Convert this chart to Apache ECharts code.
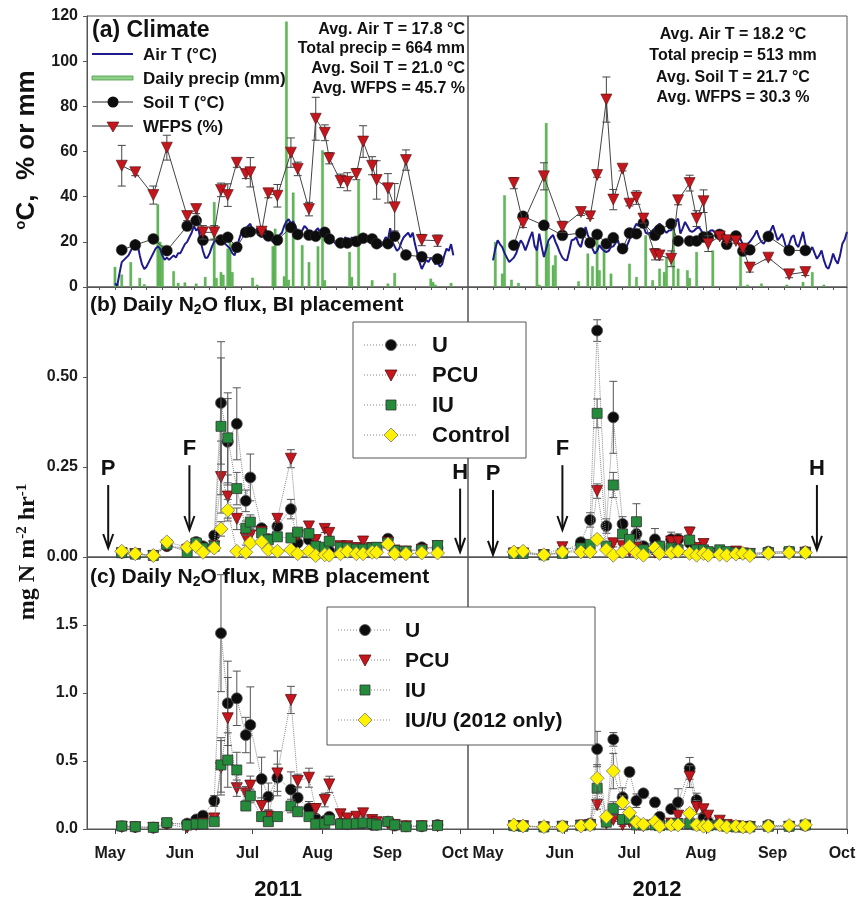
<!DOCTYPE html>
<html><head><meta charset="utf-8">
<script src="https://cdn.jsdelivr.net/npm/echarts@6/dist/echarts.min.js"></script>
<style>html,body{margin:0;padding:0;background:#fff}#c{width:858px;height:900px}</style>
</head><body><div id="c"></div><script>
// ---------- DATA ----------
const monthNames = ['May','Jun','Jul','Aug','Sep','Oct'];
const monthStarts2011 = [121,152,182,213,244,274];
const monthStarts2012 = [122,153,183,214,245,275];

const airStart2011 = 121;
const airT2011 = [1.6,0.5,6,11,12,13,14,16,18,21,19,14,10,8,9,11,13,15,17,18,17,14,12,13,12,13,14,13,15,15,17,19,20,22,24,27,25,26,20,16,13,13,15,18,20,21,19,21,20,19,18,17,15,14,17,21,24,23,26,27,28,25,24,26,23,22,24,25,23,21,20,22,21,23,24,27,29,30,28,29,27,24,23,25,27,26,24,25,23,25,26,24,26,23,22,21,22,20,19,20,18,19,22,21,20,22,20,21,22,20,21,22,20,21,19,20,18,19,18,20,22,21,26,20,18,16,17,20,22,23,24,22,24,19,15,11,8,10,12,11,13,12,10,11,9,10,14,17,16,19,14];
const airStart2012 = 122;
const airT2012 = [11.8,17,20.7,19,17.7,15,13,11,12,13,14.8,18,20.7,19,16.2,19,22,24.4,18,16.2,23.6,18,13.3,17,20.7,22,23,20,17.7,15,13,12,11.8,16,20.7,21,22,19,17.7,22,26.6,23,20.7,17,14.8,16,18.5,17,16,15.5,16,17.7,18,19.5,20.7,17,14.8,16,18.5,21,24.4,26,28,27,28,27,24,23.6,24,25.1,26,27,28,27,25.1,24,25,25.1,27,29,30.3,23.6,26,28.8,27,25,24.4,25,26,26.6,25,23,22.9,24,25,25.1,24,25,25.1,22,20,19.2,20,21.4,22,21,22.9,21,19,17.7,19,20,21.4,23,25.1,22,20,19.2,21,23.6,25,27.3,24,20.7,22,23.6,20,16.2,19,22,22.9,19,17.7,21,24.4,19,15.5,16,17.7,15,12.5,14,16.2,12,9,8.1,11,14.8,12,10.3,14,19.2,21,24.4];

const precip2011 = [[121,8.9],[122,1.5],[124,5.5],[128,11],[132,4],[134,1.2],[140,36.6],[141,20],[142,18.6],[147,7],[149,1.8],[152,2],[157,1.5],[161,4.4],[165,37.6],[166,4],[168,6.6],[169,5.4],[171,17],[172,23.6],[173,6.6],[182,4.1],[184,1],[191,18],[192,25.8],[196,4.7],[197,117.5],[198,3.2],[200,41.8],[204,18.5],[207,11],[211,18],[213,60.5],[214,3],[225,15.5],[226,4.4],[229,47.2],[235,3],[242,1.5],[245,6.2],[261,3.7],[262,2.2],[263,1],[270,1.8]];
const precip2012 = [[123,19.9],[126,5.9],[127,40.6],[130,3.2],[133,1.8],[141,18.5],[142,1],[145,72.6],[146,19.2],[148,9.6],[149,14],[159,2.5],[163,14.8],[165,9.2],[167,23.6],[168,7.4],[170,20.7],[173,5.9],[181,10.3],[184,4.4],[188,22.9],[191,3],[194,8.1],[196,6.6],[197,13.3],[200,25.8],[202,8.1],[206,7.4],[207,4],[210,15.5],[217,16.2],[229,14.8],[232,1],[238,1.5],[249,1],[256,2.2],[260,6.6],[265,1]];

const sampleDays2011 = [124,130,138,144,153,157,160,165,168,171,175,179,181,186,189,193,199,202,207,210,214,216,221,224,228,231,235,237,242,245,250,257,264];
const soilT2011 = [16.4,18.6,21.3,16.1,27,29.4,20.8,null,20.8,22,17.6,24.2,24.5,24.5,22.6,20.8,26.4,23.3,23,22.5,24.2,21.3,19.5,19.5,20.2,21.6,21.3,19.2,19.2,22.5,14.2,13.4,12.4];
const wfps2011 = [53.7,50.8,40.7,61.7,31.4,34.5,24.2,24.2,43,40.7,55,50,50.8,24.5,41.5,40.4,59.5,52.3,34.5,74.5,68.3,57,47,46.6,50,64.4,53.7,47.4,43.7,35.3,56.2,20.8,20.5];
const wfpsErr2011 = [9,1.5,4,5.5,2,2,3,3,3,5,2,2,6.5,1,2,5,6.5,3,3,9.5,3.5,2.5,3,4,2.5,7,4,8.5,6.5,10.5,4.5,2.5,2.5];

const sampleDays2012 = [131,135,144,152,160,164,167,171,174,178,181,184,187,192,194,199,202,207,210,213,215,220,223,227,230,233,241,250,257];
const soilT2012 = [18.5,31.3,27.3,22.9,23.9,19.6,23.3,19.2,21.8,17,23.9,23.6,28.3,22.9,25.4,28,20.4,20.4,20.4,22.1,22.1,23.3,18.9,22.6,15.9,16.5,22.4,16.2,16.2];
const wfps2012 = [46,28.3,49,26.6,33.2,31.3,49.6,83,38.7,52.4,36.9,39.6,30.3,14.5,14,12.5,38.4,46,30.3,38,19.2,22.4,20.7,20.4,17,8.6,13,5.6,6.6];
const wfpsErr2012 = [2.5,2,6,2.5,1.5,1,1,10,4.5,1,1,3,2,2.5,2,3.5,2,3.5,3.5,5,3.5,1,1,1,1,2,1,1.5,1.5];

// (b) BI placement
const biU2011 = [0.012,0.008,0.004,0.03,0.025,0.042,0.03,0.06,0.428,0.32,0.37,0.156,0.221,0.08,0.05,0.085,0.133,0.039,0.048,0.006,0.02,0.016,0.02,0.02,0.018,0.02,0.02,0.02,0.051,0.015,0.015,0.027,0.025];
const biPCU2011 = [0.01,0.008,0.003,0.03,0.02,0.035,0.02,0.03,0.222,0.168,0.106,0.053,0.06,0.07,0.04,0.106,0.273,0.06,0.085,0.047,0.078,0.067,0.03,0.03,0.025,0.043,0.025,0.025,0.04,0.018,0.015,0.02,0.03];
const biIU2011 = [0.012,0.008,0.004,0.035,0.013,0.039,0.025,0.03,0.363,0.331,0.19,0.08,0.097,0.067,0.048,0.056,0.053,0.069,0.065,0.03,0.027,0.044,0.027,0.025,0.022,0.022,0.025,0.027,0.039,0.018,0.016,0.02,0.032];
const biCtrl2011 = [0.016,0.009,0.004,0.042,0.027,0.03,0.013,0.025,0.078,0.13,0.016,0.013,0.039,0.042,0.02,0.016,0.02,0.009,0.016,0.004,0.006,0.005,0.009,0.016,0.009,0.009,0.013,0.013,0.036,0.009,0.009,0.011,0.011];
const biUErr2011 = [0.003,0.003,0.002,0.005,0.005,0.008,0.005,0.01,0.17,0.12,0.1,0.03,0.065,0.01,0.01,0.02,0.027,0.01,0.01,0.003,0.005,0.005,0.005,0.005,0.005,0.005,0.005,0.005,0.01,0.005,0.005,0.005,0.005];
const biPCUErr2011 = [0.003,0.003,0.002,0.005,0.005,0.005,0.005,0.005,0.1,0.06,0.03,0.02,0.02,0.01,0.01,0.01,0.025,0.01,0.01,0.005,0.01,0.01,0.005,0.005,0.005,0.005,0.005,0.005,0.005,0.005,0.005,0.005,0.005];
const biIUErr2011 = [0.003,0.003,0.002,0.005,0.005,0.005,0.005,0.005,0.19,0.125,0.045,0.02,0.02,0.01,0.01,0.01,0.01,0.01,0.01,0.005,0.005,0.005,0.005,0.005,0.005,0.005,0.005,0.005,0.005,0.005,0.005,0.005,0.008];
const biCtrlErr2011 = [0.003,0.003,0.002,0.005,0.003,0.003,0.003,0.003,0.02,0.03,0.003,0.003,0.005,0.005,0.003,0.003,0.003,0.003,0.003,0.003,0.003,0.003,0.003,0.003,0.003,0.003,0.003,0.003,0.005,0.003,0.003,0.003,0.003];

const biU2012 = [0.012,0.012,0.006,0.012,0.041,0.103,0.629,0.086,0.388,0.092,0.04,0.064,0.03,0.049,0.03,0.049,0.049,0.039,0.02,0.02,0.01,0.015,0.01,0.01,0.01,0.008,0.015,0.015,0.015];
const biPCU2012 = [0.01,0.01,0.005,0.027,0.02,0.025,0.183,0.02,0.038,0.03,0.015,0.025,0.01,0.012,0.008,0.043,0.043,0.068,0.025,0.036,0.01,0.01,0.01,0.015,0.01,0.008,0.01,0.01,0.012];
const biIU2012 = [0.01,0.01,0.006,0.01,0.025,0.035,0.399,0.03,0.2,0.064,0.049,0.098,0.02,0.025,0.03,0.025,0.02,0.047,0.02,0.02,0.015,0.02,0.015,0.012,0.01,0.01,0.012,0.015,0.012];
const biCtrl2012 = [0.014,0.016,0.006,0.014,0.014,0.014,0.049,0.02,0.005,0.014,0.03,0.012,0.005,0.025,0.01,0.012,0.016,0.01,0.005,0.01,0.005,0.007,0.005,0.008,0.01,0.004,0.01,0.012,0.012];
const biUErr2012 = [0.003,0.003,0.002,0.003,0.01,0.02,0.03,0.02,0.1,0.02,0.01,0.02,0.005,0.03,0.005,0.02,0.015,0.01,0.005,0.005,0.005,0.003,0.003,0.003,0.003,0.003,0.003,0.003,0.003];
const biPCUErr2012 = [0.003,0.003,0.002,0.005,0.005,0.005,0.02,0.005,0.01,0.005,0.005,0.005,0.005,0.005,0.005,0.005,0.005,0.015,0.005,0.005,0.003,0.003,0.003,0.003,0.003,0.003,0.003,0.003,0.003];
const biIUErr2012 = [0.003,0.003,0.002,0.003,0.005,0.005,0.04,0.005,0.035,0.01,0.005,0.05,0.005,0.005,0.005,0.005,0.005,0.01,0.005,0.005,0.003,0.003,0.003,0.003,0.003,0.003,0.003,0.003,0.003];
const biCtrlErr2012 = [0.003,0.003,0.002,0.003,0.003,0.003,0.01,0.003,0.003,0.003,0.003,0.003,0.003,0.003,0.003,0.003,0.003,0.003,0.003,0.003,0.003,0.003,0.003,0.003,0.003,0.003,0.003,0.003,0.003];

// (c) MRB placement
const mrbU2011 = [0.02,0.015,0.01,0.04,0.04,0.07,0.098,0.206,1.44,0.924,0.961,0.691,0.765,0.368,0.238,0.377,0.29,0.23,0.152,0.078,0.06,0.09,0.04,0.035,0.04,0.04,0.03,0.03,0.054,0.025,0.02,0.02,0.03];
const mrbPCU2011 = [0.015,0.012,0.008,0.035,0.01,0.03,0.04,0.078,0.45,0.814,0.3,0.262,0.319,0.169,0.091,0.409,0.949,0.353,0.377,0.147,0.213,0.328,0.108,0.078,0.09,0.115,0.066,0.05,0.04,0.03,0.02,0.02,0.02];
const mrbIU2011 = [0.022,0.017,0.012,0.047,0.029,0.037,0.037,0.054,0.471,0.507,0.434,0.169,0.243,0.091,0.054,0.091,0.169,0.127,0.091,0.037,0.04,0.066,0.037,0.037,0.04,0.045,0.04,0.03,0.054,0.03,0.017,0.022,0.025];
const mrbUErr2011 = [0.005,0.005,0.005,0.01,0.01,0.02,0.02,0.04,0.43,0.31,0.2,0.13,0.28,0.16,0.1,0.1,0.13,0.08,0.05,0.02,0.02,0.02,0.01,0.01,0.01,0.01,0.01,0.01,0.01,0.01,0.005,0.005,0.005];
const mrbPCUErr2011 = [0.005,0.005,0.005,0.01,0.01,0.01,0.01,0.02,0.2,0.3,0.06,0.05,0.07,0.06,0.05,0.165,0.1,0.05,0.07,0.04,0.05,0.06,0.03,0.02,0.02,0.02,0.01,0.01,0.01,0.01,0.005,0.005,0.005];
const mrbIUErr2011 = [0.005,0.005,0.005,0.01,0.01,0.01,0.01,0.01,0.2,0.2,0.13,0.03,0.05,0.03,0.02,0.03,0.05,0.03,0.02,0.01,0.01,0.01,0.01,0.01,0.01,0.01,0.01,0.01,0.01,0.01,0.005,0.005,0.005];

const mrbU2012 = [0.025,0.022,0.015,0.02,0.03,0.04,0.588,0.06,0.659,0.233,0.42,0.208,0.262,0.196,0.09,0.147,0.196,0.446,0.213,0.086,0.05,0.04,0.02,0.02,0.015,0.02,0.03,0.02,0.025];
const mrbPCU2012 = [0.02,0.02,0.012,0.015,0.025,0.03,0.176,0.04,0.066,0.03,0.05,0.03,0.02,0.03,0.02,0.04,0.098,0.385,0.16,0.145,0.098,0.061,0.03,0.02,0.015,0.015,0.015,0.015,0.02];
const mrbIU2012 = [0.025,0.02,0.015,0.02,0.025,0.03,0.3,0.05,0.15,0.07,0.074,0.03,0.03,0.03,0.025,0.03,0.04,0.04,0.03,0.03,0.025,0.03,0.02,0.015,0.015,0.015,0.02,0.02,0.03];
const mrbIUU2012 = [0.03,0.022,0.017,0.017,0.022,0.03,0.373,0.09,0.426,0.194,0.12,0.05,0.035,0.054,0.02,0.03,0.03,0.115,0.03,0.02,0.02,0.03,0.015,0.02,0.015,0.012,0.02,0.025,0.03];
const mrbUErr2012 = [0.01,0.01,0.01,0.01,0.01,0.01,0.13,0.01,0.05,0.07,0.03,0.05,0.01,0.03,0.01,0.01,0.1,0.08,0.05,0.01,0.01,0.01,0.01,0.01,0.01,0.01,0.01,0.01,0.01];
const mrbPCUErr2012 = [0.01,0.01,0.01,0.01,0.01,0.01,0.03,0.01,0.01,0.01,0.01,0.01,0.01,0.01,0.01,0.01,0.02,0.08,0.05,0.03,0.01,0.01,0.01,0.01,0.01,0.01,0.01,0.01,0.01];
const mrbIUErr2012 = [0.01,0.01,0.01,0.01,0.01,0.01,0.08,0.01,0.05,0.01,0.01,0.01,0.01,0.01,0.01,0.01,0.01,0.01,0.01,0.01,0.01,0.01,0.01,0.01,0.01,0.01,0.01,0.01,0.01];
const mrbIUUErr2012 = [0.01,0.01,0.01,0.01,0.01,0.01,0.1,0.01,0.13,0.05,0.01,0.01,0.01,0.01,0.01,0.01,0.01,0.03,0.01,0.01,0.01,0.01,0.01,0.01,0.01,0.01,0.01,0.01,0.01];

// event arrows (P = planting, F = fertilization, H = harvest)
const arrowLabels = ['P','F','H'];
const arrowDays2011 = [118,154,274];
const arrowTop2011 = [0.2,0.255,0.19];
const arrowBottom2011 = [0.025,0.075,0.014];
const arrowDays2012 = [122,152,262];
const arrowTop2012 = [0.186,0.255,0.2];
const arrowBottom2012 = [0.006,0.075,0.02];

const stats2011 = ['Avg. Air T = 17.8 °C','Total precip = 664 mm','Avg. Soil T = 21.0 °C','Avg. WFPS = 45.7 %'];
const stats2012 = ['Avg. Air T = 18.2 °C','Total precip = 513 mm','Avg. Soil T = 21.7 °C','Avg. WFPS = 30.3 %'];
const yearLabels = ['2011','2012'];

// ---------- CHART ----------
const SANS = 'Liberation Sans, Arial, sans-serif';
const chart = echarts.init(document.getElementById('c'), null, {renderer:'canvas'});

const L = 87, MID = 468, R = 847;
const TOPS = [16, 287, 557], HEIGHTS = [271, 270, 272];
const grids = [];
for (let p = 0; p < 3; p++) {
  grids.push({left: L, top: TOPS[p], width: MID - L, height: HEIGHTS[p], show: true, borderColor: '#555', borderWidth: 1, containLabel: false, outerBoundsMode: 'none'});
  grids.push({left: MID, top: TOPS[p], width: R - MID, height: HEIGHTS[p], show: true, borderColor: '#555', borderWidth: 1, containLabel: false, outerBoundsMode: 'none'});
}
const xRange = [[108.6, 277.5], [111.2, 275]];
const monthStarts = [monthStarts2011, monthStarts2012];
function weekly(ms, range) { const out = []; for (let d = ms[0] - 14; d <= range[1]; d += 7) if (d >= range[0]) out.push(d); return out; }

const xAxes = [], yAxes = [];
const yCfg = [
  {min: 0, max: 120, interval: 20, fmt: v => String(v)},
  {min: 0, max: 0.75, interval: 0.25, fmt: v => v.toFixed(2)},
  {min: 0, max: 2, interval: 0.5, fmt: v => v.toFixed(1)}
];
for (let p = 0; p < 3; p++) {
  for (let yr = 0; yr < 2; yr++) {
    const gi = p * 2 + yr;
    const ms = monthStarts[yr];
    const isBottom = p === 2;
    xAxes.push({
      type: 'value', gridIndex: gi, min: xRange[yr][0], max: xRange[yr][1],
      splitLine: {show: false},
      axisLine: {show: true, lineStyle: {color: '#555', width: 1}},
      axisTick: isBottom ? {show: true, inside: false, length: 5, customValues: ms, lineStyle: {color: '#444'}}
                         : (p === 0 ? {show: true, inside: false, length: 3, customValues: weekly(ms, xRange[yr]), lineStyle: {color: '#555'}} : {show: false}),
      axisLabel: isBottom ? {show: true, customValues: ms, formatter: v => monthNames[ms.indexOf(v)] || '', margin: 17,
                              color: '#1a1a1a', fontFamily: SANS, fontWeight: 'bold', fontSize: 16, showMaxLabel: true, showMinLabel: true,
                              align: 'center', padding: [0, 10, 0, 0], hideOverlap: false} : {show: false}
    });
    const c = yCfg[p];
    yAxes.push({
      type: 'value', gridIndex: gi, min: c.min, max: c.max, interval: c.interval, show: yr === 0,
      splitLine: {show: false},
      axisLine: {show: true, lineStyle: {color: '#555'}},
      axisTick: {show: true, inside: false, length: 4, lineStyle: {color: '#555'}},
      axisLabel: {show: yr === 0, formatter: c.fmt, margin: 9, color: '#1a1a1a', fontFamily: SANS, fontWeight: 'bold', fontSize: 16,
                  showMaxLabel: p === 0, showMinLabel: true}
    });
  }
}

function errSeries(gi, days, vals, errs, color, cap, z) {
  const data = [];
  days.forEach((d, i) => { if (vals[i] != null && errs[i] != null) data.push([d, Math.max(0, vals[i] - errs[i]), vals[i] + errs[i]]); });
  return {
    type: 'custom', xAxisIndex: gi, yAxisIndex: gi, data, silent: true, z: z || 2, clip: true,
    encode: {x: 0, y: [1, 2]},
    renderItem(params, api) {
      const x = api.value(0);
      const lo = api.coord([x, api.value(1)]), hi = api.coord([x, api.value(2)]);
      const st = {stroke: color, lineWidth: 1};
      return {type: 'group', children: [
        {type: 'line', shape: {x1: lo[0], y1: lo[1], x2: hi[0], y2: hi[1]}, style: st},
        {type: 'line', shape: {x1: hi[0] - cap, y1: hi[1], x2: hi[0] + cap, y2: hi[1]}, style: st},
        {type: 'line', shape: {x1: lo[0] - cap, y1: lo[1], x2: lo[0] + cap, y2: lo[1]}, style: st}
      ]};
    }
  };
}
const pair = (days, vals) => days.map((d, i) => [d, vals[i]]);

const MK = {
  U: {symbol: 'circle', symbolSize: 11, color: '#0d0d0d', border: '#555'},
  PCU: {symbol: 'triangle', symbolSize: 11, symbolRotate: 180, color: '#c4161c', border: '#5a1010'},
  IU: {symbol: 'rect', symbolSize: 10, color: '#238b3a', border: '#333'},
  CT: {symbol: 'diamond', symbolSize: 14, color: '#fff200', border: '#777'}
};
function fluxSeries(gi, name, days, vals, mk, z) {
  return {
    type: 'line', name, xAxisIndex: gi, yAxisIndex: gi, data: pair(days, vals), connectNulls: true, z: z,
    symbol: mk.symbol, symbolSize: mk.symbolSize, symbolRotate: mk.symbolRotate || 0,
    lineStyle: {color: '#888', width: 1, type: 'dotted'},
    itemStyle: {color: mk.color, borderColor: mk.border, borderWidth: 0.8},
    emphasis: {disabled: true}, animation: false
  };
}

const series = [];
// panel (a)
[[0, airStart2011, airT2011, precip2011, sampleDays2011, soilT2011, wfps2011, wfpsErr2011],
 [1, airStart2012, airT2012, precip2012, sampleDays2012, soilT2012, wfps2012, wfpsErr2012]].forEach(([gi, a0, air, pr, sd, soil, wf, wfe]) => {
  series.push({type: 'bar', xAxisIndex: gi, yAxisIndex: gi, data: pr, barWidth: 2.6, z: 1,
               itemStyle: {color: '#63b85a', borderColor: '#3f9a3a', borderWidth: 0.3}, animation: false});
  series.push({type: 'line', xAxisIndex: gi, yAxisIndex: gi, data: air.map((v, i) => [a0 + i, v]), showSymbol: false, symbol: 'none', z: 2,
               lineStyle: {color: '#1e1a8c', width: 2}, animation: false});
  series.push({type: 'line', xAxisIndex: gi, yAxisIndex: gi, data: pair(sd, soil), connectNulls: true, z: 3,
               symbol: 'circle', symbolSize: 11, lineStyle: {color: '#444', width: 1},
               itemStyle: {color: '#0d0d0d', borderColor: '#333', borderWidth: 0.5}, animation: false});
  series.push(errSeries(gi, sd, wf, wfe, '#444', 4, 4));
  series.push({type: 'line', xAxisIndex: gi, yAxisIndex: gi, data: pair(sd, wf), z: 5,
               symbol: 'triangle', symbolRotate: 180, symbolSize: 11, lineStyle: {color: '#444', width: 1},
               itemStyle: {color: '#c4161c', borderColor: '#4a1010', borderWidth: 0.6}, animation: false});
});
// panel (b)
[[2, sampleDays2011, [biU2011, biPCU2011, biIU2011, biCtrl2011], [biUErr2011, biPCUErr2011, biIUErr2011, biCtrlErr2011]],
 [3, sampleDays2012, [biU2012, biPCU2012, biIU2012, biCtrl2012], [biUErr2012, biPCUErr2012, biIUErr2012, biCtrlErr2012]]].forEach(([gi, sd, vs, es]) => {
  const mks = [MK.U, MK.PCU, MK.IU, MK.CT], names = ['U', 'PCU', 'IU', 'Control'];
  vs.forEach((v, k) => series.push(errSeries(gi, sd, v, es[k], '#555', 4, 2 + k * 2)));
  vs.forEach((v, k) => series.push(fluxSeries(gi, names[k], sd, v, mks[k], 3 + k * 2)));
});
// panel (c)
series.push(...[mrbU2011, mrbPCU2011, mrbIU2011].map((v, k) => errSeries(4, sampleDays2011, v, [mrbUErr2011, mrbPCUErr2011, mrbIUErr2011][k], '#555', 4, 2 + k * 2)));
series.push(...[mrbU2011, mrbPCU2011, mrbIU2011].map((v, k) => fluxSeries(4, ['U','PCU','IU'][k], sampleDays2011, v, [MK.U, MK.PCU, MK.IU][k], 3 + k * 2)));
series.push(...[mrbU2012, mrbPCU2012, mrbIU2012, mrbIUU2012].map((v, k) => errSeries(5, sampleDays2012, v, [mrbUErr2012, mrbPCUErr2012, mrbIUErr2012, mrbIUUErr2012][k], '#555', 4, 2 + k * 2)));
series.push(...[mrbU2012, mrbPCU2012, mrbIU2012, mrbIUU2012].map((v, k) => fluxSeries(5, ['U','PCU','IU','IU/U'][k], sampleDays2012, v, [MK.U, MK.PCU, MK.IU, MK.CT][k], 3 + k * 2)));

// arrows
function arrowSeries(gi, days, tops, bots) {
  return {
    type: 'custom', xAxisIndex: gi, yAxisIndex: gi, silent: true, z: 20, clip: false,
    data: days.map((d, i) => [d, tops[i], bots[i]]), encode: {x: 0, y: [1, 2]},
    renderItem(params, api) {
      const x = api.value(0);
      const t = api.coord([x, api.value(1)]), b = api.coord([x, api.value(2)]);
      const st = {stroke: '#111', lineWidth: 2, fill: null};
      return {type: 'group', children: [
        {type: 'line', shape: {x1: t[0], y1: t[1], x2: b[0], y2: b[1] - 1}, style: st},
        {type: 'polyline', shape: {points: [[b[0] - 5, b[1] - 14], [b[0], b[1]], [b[0] + 5, b[1] - 14]]}, style: st},
        {type: 'text', x: t[0], y: t[1] - 5, style: {text: arrowLabels[params.dataIndex], font: 'bold 22px ' + SANS, fill: '#111', align: 'center', verticalAlign: 'bottom'}}
      ]};
    }
  };
}
series.push(arrowSeries(2, arrowDays2011, arrowTop2011, arrowBottom2011));
series.push(arrowSeries(3, arrowDays2012, arrowTop2012, arrowBottom2012));

// ---------- graphics (titles, legends, annotations) ----------
const G = [];
const txt = (x, y, text, size, opt) => Object.assign({type: 'text', x, y, z: 50, style: Object.assign({text, font: 'bold ' + size + 'px ' + SANS, fill: '#111', align: 'left', verticalAlign: 'middle'}, (opt && opt.style) || {})}, (opt && opt.el) || {});
G.push(txt(92, 31, '(a) Climate', 23));
G.push({type: 'text', x: 90, y: 305, z: 50, style: {text: '(b) Daily N{sub|2}O flux, BI placement', font: 'bold 21px ' + SANS, fill: '#111', verticalAlign: 'middle',
        rich: {sub: {font: 'bold 14px ' + SANS, fill: '#111', padding: [10, 0, 0, 0]}}}});
G.push({type: 'text', x: 90, y: 577, z: 50, style: {text: '(c) Daily N{sub|2}O flux, MRB placement', font: 'bold 21px ' + SANS, fill: '#111', verticalAlign: 'middle',
        rich: {sub: {font: 'bold 14px ' + SANS, fill: '#111', padding: [10, 0, 0, 0]}}}});
// panel a legend
G.push({type: 'line', z: 50, shape: {x1: 92, y1: 54, x2: 133, y2: 54}, style: {stroke: '#1e1a8c', lineWidth: 2}});
G.push(txt(143, 55, 'Air T (°C)', 17));
G.push({type: 'rect', z: 50, shape: {x: 92, y: 76, width: 41, height: 4}, style: {fill: '#8fd18a', stroke: '#4a9a45', lineWidth: 0.8}});
G.push(txt(143, 79, 'Daily precip (mm)', 17));
G.push({type: 'line', z: 50, shape: {x1: 92, y1: 102, x2: 133, y2: 102}, style: {stroke: '#222', lineWidth: 1}});
G.push({type: 'circle', z: 51, shape: {cx: 113, cy: 102, r: 5.5}, style: {fill: '#0d0d0d'}});
G.push(txt(143, 103, 'Soil T (°C)', 17));
G.push({type: 'line', z: 50, shape: {x1: 92, y1: 126, x2: 133, y2: 126}, style: {stroke: '#222', lineWidth: 1}});
G.push({type: 'polygon', z: 51, shape: {points: [[107, 122], [119, 122], [113, 132]]}, style: {fill: '#c4161c', stroke: '#4a1010', lineWidth: 0.6}});
G.push(txt(143, 127, 'WFPS (%)', 17));
// stats
const s11y = [30, 49, 69, 89], s12y = [35, 56, 78, 98];
stats2011.forEach((s, i) => G.push(txt(465, s11y[i], s, 16, {style: {align: 'right'}})));
stats2012.forEach((s, i) => G.push(txt(733, s12y[i], s, 16, {style: {align: 'center'}})));

function legendMarker(kind, cx, cy) {
  if (kind === 'U') return {type: 'circle', z: 61, shape: {cx, cy, r: 5.5}, style: {fill: '#0d0d0d', stroke: '#555', lineWidth: 0.8}};
  if (kind === 'PCU') return {type: 'polygon', z: 61, shape: {points: [[cx - 6, cy - 5], [cx + 6, cy - 5], [cx, cy + 6]]}, style: {fill: '#c4161c', stroke: '#5a1010', lineWidth: 0.8}};
  if (kind === 'IU') return {type: 'rect', z: 61, shape: {x: cx - 5, y: cy - 5, width: 10, height: 10}, style: {fill: '#238b3a', stroke: '#333', lineWidth: 0.8}};
  return {type: 'polygon', z: 61, shape: {points: [[cx, cy - 7], [cx + 7, cy], [cx, cy + 7], [cx - 7, cy]]}, style: {fill: '#fff200', stroke: '#777', lineWidth: 0.8}};
}
function fluxLegend(bx, by, bw, bh, x1, x2, tx, ys, labels, kinds, fs) {
  G.push({type: 'rect', z: 58, shape: {x: bx, y: by, width: bw, height: bh}, style: {fill: '#fff', stroke: '#555', lineWidth: 1}});
  ys.forEach((y, i) => {
    G.push({type: 'line', z: 60, shape: {x1, y1: y, x2, y2: y}, style: {stroke: '#888', lineWidth: 1, lineDash: [1, 2]}});
    G.push(legendMarker(kinds[i], (x1 + x2) / 2, y));
    G.push(Object.assign(txt(tx, y + 1, labels[i], fs), {z: 61}));
  });
}
fluxLegend(353, 322, 173, 136, 364, 418, 432, [345, 375, 405, 435], ['U', 'PCU', 'IU', 'Control'], ['U', 'PCU', 'IU', 'CT'], 22);
fluxLegend(327, 607, 268, 138, 338, 392, 405, [630, 660, 690, 720], ['U', 'PCU', 'IU', 'IU/U (2012 only)'], ['U', 'PCU', 'IU', 'CT'], 21);

// axis titles
G.push({type: 'text', x: 27, y: 150, rotation: Math.PI / 2, z: 50,
        style: {text: '{s|o}C,  % or mm', font: 'bold 26px ' + SANS, fill: '#111', align: 'center', verticalAlign: 'middle',
                rich: {s: {font: 'bold 15px ' + SANS, fill: '#111', padding: [0, 0, 12, 0]}}}});
G.push({type: 'text', x: 28, y: 552, rotation: Math.PI / 2, z: 50,
        style: {text: 'mg N m{s|-2} hr{s|-1}', font: 'bold 24px Liberation Serif, Times New Roman, serif', fill: '#111', align: 'center', verticalAlign: 'middle',
                rich: {s: {font: 'bold 15px Liberation Serif, serif', fill: '#111', padding: [0, 0, 12, 0]}}}});
G.push(txt(278, 890, yearLabels[0], 22, {style: {align: 'center'}}));
G.push(txt(657, 890, yearLabels[1], 22, {style: {align: 'center'}}));

chart.setOption({
  animation: false,
  backgroundColor: '#fff',
  grid: grids, xAxis: xAxes, yAxis: yAxes, series,
  graphic: G
});
</script></body></html>
